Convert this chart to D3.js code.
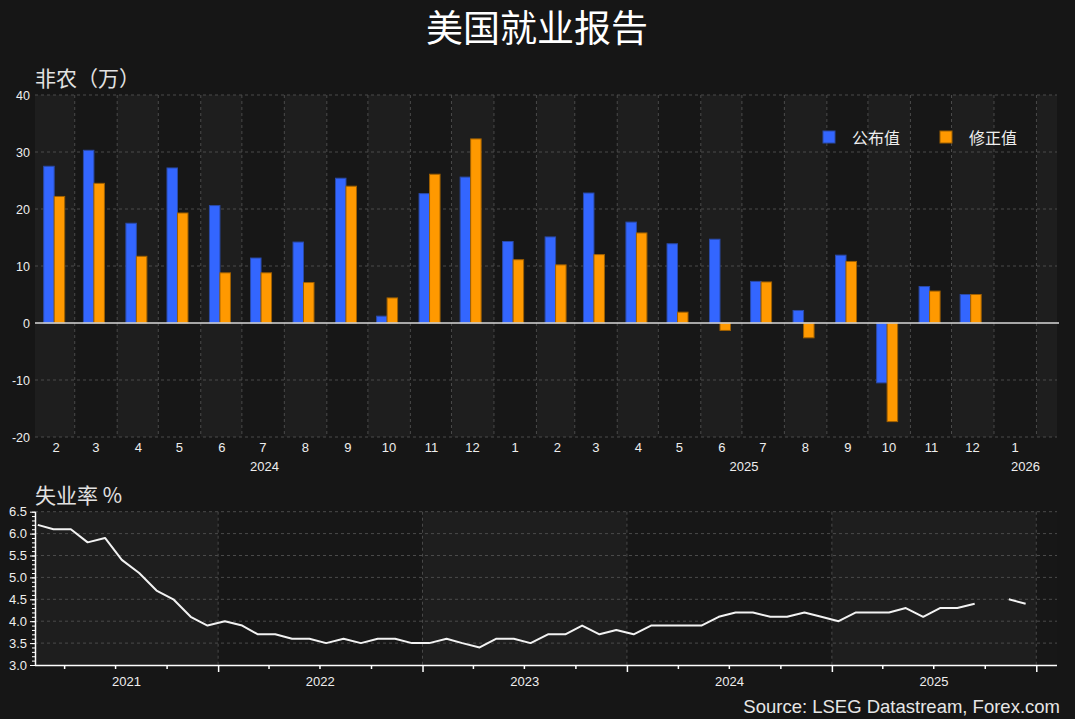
<!DOCTYPE html>
<html><head><meta charset="utf-8">
<script src="https://cdn.jsdelivr.net/npm/d3@7"></script>
<style>
html,body{margin:0;padding:0;background:#161616;}
svg{display:block;}
text{font-family:"Liberation Sans",Arial,sans-serif;}
.cjk{font-family:"Noto Sans CJK SC","Noto Sans",sans-serif;}
</style></head><body>
<svg id="c" width="1075" height="719"></svg>
<script>
// ---------- DATA ----------
const payrollMonths = ["2024-02","2024-03","2024-04","2024-05","2024-06","2024-07","2024-08","2024-09","2024-10","2024-11","2024-12",
  "2025-01","2025-02","2025-03","2025-04","2025-05","2025-06","2025-07","2025-08","2025-09","2025-10","2025-11","2025-12","2026-01"];
const published = [27.5,30.3,17.5,27.2,20.6,11.4,14.2,25.4,1.2,22.7,25.6,14.3,15.1,22.8,17.7,13.9,14.7,7.3,2.2,11.9,-10.5,6.4,5.0,null];
const revised   = [22.2,24.5,11.7,19.3,8.8,8.8,7.1,24.0,4.4,26.1,32.3,11.1,10.2,12.0,15.8,1.9,-1.3,7.2,-2.6,10.8,-17.3,5.6,5.0,null];
const payrollTicks = [-20,-10,0,10,20,30,40];
const seriesNames = ["公布值","修正值"];

const unempStart = "2021-02";
const unemp = [6.2,6.1,6.1,5.8,5.9,5.4,5.1,4.7,4.5,4.1,3.9,
  4.0,3.9,3.7,3.7,3.6,3.6,3.5,3.6,3.5,3.6,3.6,3.5,
  3.5,3.6,3.5,3.4,3.6,3.6,3.5,3.7,3.7,3.9,3.7,3.8,
  3.7,3.9,3.9,3.9,3.9,4.1,4.2,4.2,4.1,4.1,4.2,4.1,
  4.0,4.2,4.2,4.2,4.3,4.1,4.3,4.3,4.4,null,4.5,4.4];
const unempTicks = [3.0,3.5,4.0,4.5,5.0,5.5,6.0,6.5];
const unempYears = [2021,2022,2023,2024,2025,2026];

const titleText = "美国就业报告";
const payrollTitle = "非农（万）";
const unempTitle = "失业率 %";
const sourceText = "Source: LSEG Datastream, Forex.com";

// ---------- CHART ----------
const svg = d3.select("#c");
const LIGHT="#1e1e1e", DARK="#171717", GRID="#4a4a4a", TXT="#eeeeee";
svg.append("rect").attr("width",1075).attr("height",719).attr("fill","#161616");

svg.append("text").attr("class","cjk").attr("x",537).attr("y",42).attr("text-anchor","middle")
  .attr("font-size",37).attr("fill","#ffffff").text(titleText);

// ===== Top chart =====
const L=35,R=1057,T1=95,B1=437;
const x1 = d3.scaleTime().domain([new Date(2024,1,1), new Date(2026,1,16)]).range([L,R]);
const y1 = d3.scaleLinear().domain([-20,40]).range([B1,T1]);
const parse = d3.timeParse("%Y-%m");
const mDates = payrollMonths.map(parse);

const mStarts = d3.timeMonth.range(new Date(2024,1,1), new Date(2026,2,1));
const g1 = svg.append("g");
g1.selectAll("rect.band").data(mStarts).join("rect")
  .attr("x",d=>x1(d)).attr("y",T1)
  .attr("width",d=>Math.min(x1(d3.timeMonth.offset(d,1)),R)-x1(d))
  .attr("height",B1-T1)
  .attr("fill",(d,i)=>i%2===0?LIGHT:DARK);

// grid
g1.selectAll("line.vg").data(mStarts.slice(1)).join("line")
  .attr("x1",d=>x1(d)).attr("x2",d=>x1(d)).attr("y1",T1).attr("y2",B1)
  .attr("stroke",GRID).attr("stroke-dasharray","3,3");
g1.selectAll("line.hg").data(payrollTicks.filter(d=>d!==0)).join("line")
  .attr("x1",L).attr("x2",R).attr("y1",d=>y1(d)).attr("y2",d=>y1(d))
  .attr("stroke",GRID).attr("stroke-dasharray","3,3");

// bars
const bw = 10.5;
const center = d=>x1(d3.timeDay.offset(d,14));
g1.selectAll("rect.pub").data(payrollMonths.map((m,i)=>({d:mDates[i],v:published[i]})).filter(e=>e.v!=null)).join("rect")
  .attr("x",e=>center(e.d)-bw).attr("width",bw)
  .attr("y",e=>y1(Math.max(0,e.v))).attr("height",e=>Math.abs(y1(e.v)-y1(0)))
  .attr("fill","#3366ff").attr("stroke","#2a4aa8").attr("stroke-width",1);
g1.selectAll("rect.rev").data(payrollMonths.map((m,i)=>({d:mDates[i],v:revised[i]})).filter(e=>e.v!=null)).join("rect")
  .attr("x",e=>center(e.d)).attr("width",bw)
  .attr("y",e=>y1(Math.max(0,e.v))).attr("height",e=>Math.abs(y1(e.v)-y1(0)))
  .attr("fill","#ff9900").attr("stroke","#a06000").attr("stroke-width",1);

// zero line
g1.append("line").attr("x1",L).attr("x2",R+2).attr("y1",y1(0)).attr("y2",y1(0))
  .attr("stroke","#d8d8d8").attr("stroke-width",1.5);

// y axis labels
const ya1 = svg.append("g").attr("transform",`translate(${L},0)`)
  .call(d3.axisLeft(y1).tickValues(payrollTicks).tickSize(0).tickPadding(5).tickFormat(d=>String(d)));
ya1.select(".domain").remove();
ya1.selectAll("text").attr("fill",TXT).attr("font-size",12.5).attr("font-family","Liberation Sans, Arial, sans-serif");

// x axis month labels
const xa1 = svg.append("g").attr("transform",`translate(0,${B1})`)
  .call(d3.axisBottom(x1).tickValues(mDates.map(d=>d3.timeDay.offset(d,15))).tickSize(0).tickPadding(6)
    .tickFormat(d=>d.getMonth()+1));
xa1.select(".domain").remove();
xa1.selectAll("text").attr("fill",TXT).attr("font-size",13).attr("font-family","Liberation Sans, Arial, sans-serif");

// year labels
[2024,2025,2026].forEach(yr=>{
  const a=Math.max(x1(new Date(yr,0,1)),L), b=Math.min(x1(new Date(yr+1,0,1)),R);
  svg.append("text").attr("x",(a+b)/2).attr("y",471).attr("text-anchor","middle")
    .attr("font-size",13).attr("fill",TXT).text(yr);
});

svg.append("text").attr("class","cjk").attr("x",35).attr("y",86).attr("font-size",21)
  .attr("fill","#e2e2e2").text(payrollTitle);

// legend
const leg=[{n:seriesNames[0],f:"#3366ff",s:"#2a4aa8",x:823},{n:seriesNames[1],f:"#ff9900",s:"#a06000",x:940}];
leg.forEach(l=>{
  svg.append("rect").attr("x",l.x).attr("y",131).attr("width",12).attr("height",12)
    .attr("fill",l.f).attr("stroke",l.s);
  svg.append("text").attr("class","cjk").attr("x",l.x+29).attr("y",144).attr("font-size",16)
    .attr("fill","#eeeeee").text(l.n);
});

// ===== Bottom chart =====
const T2=511.7,B2=665;
const x2 = d3.scaleTime().domain([new Date(2021,1,8), new Date(2026,1,7)]).range([L,R]);
const y2 = d3.scaleLinear().domain([3,6.5]).range([B2,T2]);
const g2 = svg.append("g");
unempYears.forEach((yr,i)=>{
  const a=Math.max(x2(new Date(yr,0,1)),L), b=Math.min(x2(new Date(yr+1,0,1)),R);
  g2.append("rect").attr("x",a).attr("y",T2).attr("width",b-a).attr("height",B2-T2)
    .attr("fill",i%2===0?LIGHT:DARK);
});
g2.selectAll("line.vg").data(unempYears.slice(1).map(y=>new Date(y,0,1))).join("line")
  .attr("x1",d=>x2(d)).attr("x2",d=>x2(d)).attr("y1",T2).attr("y2",B2)
  .attr("stroke",GRID).attr("stroke-dasharray","3,3");
g2.selectAll("line.hg").data(unempTicks.filter(d=>d>3)).join("line")
  .attr("x1",L).attr("x2",R).attr("y1",d=>y2(d)).attr("y2",d=>y2(d))
  .attr("stroke",GRID).attr("stroke-dasharray","3,3");

const s0 = parse(unempStart);
const uData = unemp.map((v,i)=>({d:d3.timeDay.offset(d3.timeMonth.offset(s0,i),12),v}));
g2.append("path").datum(uData)
  .attr("d",d3.line().defined(e=>e.v!=null).x(e=>x2(e.d)).y(e=>y2(e.v)))
  .attr("fill","none").attr("stroke","#f2f2f2").attr("stroke-width",2).attr("stroke-linejoin","round");

// x axis
const qTicks = d3.timeMonth.every(3).range(new Date(2021,1,8), new Date(2026,1,7)).filter(d=>d.getMonth()!==0);
const yTicksX = unempYears.slice(1).map(y=>new Date(y,0,1));
const xa2m = svg.append("g").attr("transform",`translate(0,${B2})`)
  .call(d3.axisBottom(x2).tickValues(qTicks).tickSize(4).tickFormat(""));
const xa2 = svg.append("g").attr("transform",`translate(0,${B2})`)
  .call(d3.axisBottom(x2).tickValues(yTicksX).tickSize(7).tickFormat(""));
[xa2m,xa2].forEach(g=>{g.selectAll("line").attr("stroke","#ffffff").attr("stroke-width",1.5);
  g.select(".domain").attr("stroke","#ffffff").attr("stroke-width",1.5);});
xa2m.select(".domain").remove();
xa2.select(".domain").attr("d",`M${L},0.5H${R}`);
unempYears.forEach(yr=>{
  const a=Math.max(x2(new Date(yr,0,1)),L), b=Math.min(x2(new Date(yr+1,0,1)),R);
  if(b-a<100) return;
  svg.append("text").attr("x",(a+b)/2).attr("y",686).attr("text-anchor","middle")
    .attr("font-size",13).attr("fill",TXT).text(yr);
});

// y axis
const minorY = d3.range(30,66).map(d=>d/10);
const ya2m = svg.append("g").attr("transform",`translate(${L},0)`)
  .call(d3.axisLeft(y2).tickValues(minorY).tickSize(3).tickFormat(""));
const ya2 = svg.append("g").attr("transform",`translate(${L},0)`)
  .call(d3.axisLeft(y2).tickValues(unempTicks).tickSize(5).tickPadding(3).tickFormat(d3.format(".1f")));
[ya2m,ya2].forEach(g=>{g.selectAll("line").attr("stroke","#ffffff");
  g.select(".domain").attr("stroke","#ffffff").attr("stroke-width",1.5);});
ya2m.select(".domain").remove();
ya2.select(".domain").attr("d",`M0.5,${T2}V${B2}`);
ya2.selectAll("text").attr("fill",TXT).attr("font-size",13).attr("font-family","Liberation Sans, Arial, sans-serif");

svg.append("text").attr("class","cjk").attr("x",35).attr("y",503).attr("font-size",21)
  .attr("fill","#e2e2e2").text(unempTitle);

svg.append("text").attr("x",1060).attr("y",713).attr("text-anchor","end").attr("font-size",18.5)
  .attr("fill","#e6e6e6").text(sourceText);
</script>
</body></html>
